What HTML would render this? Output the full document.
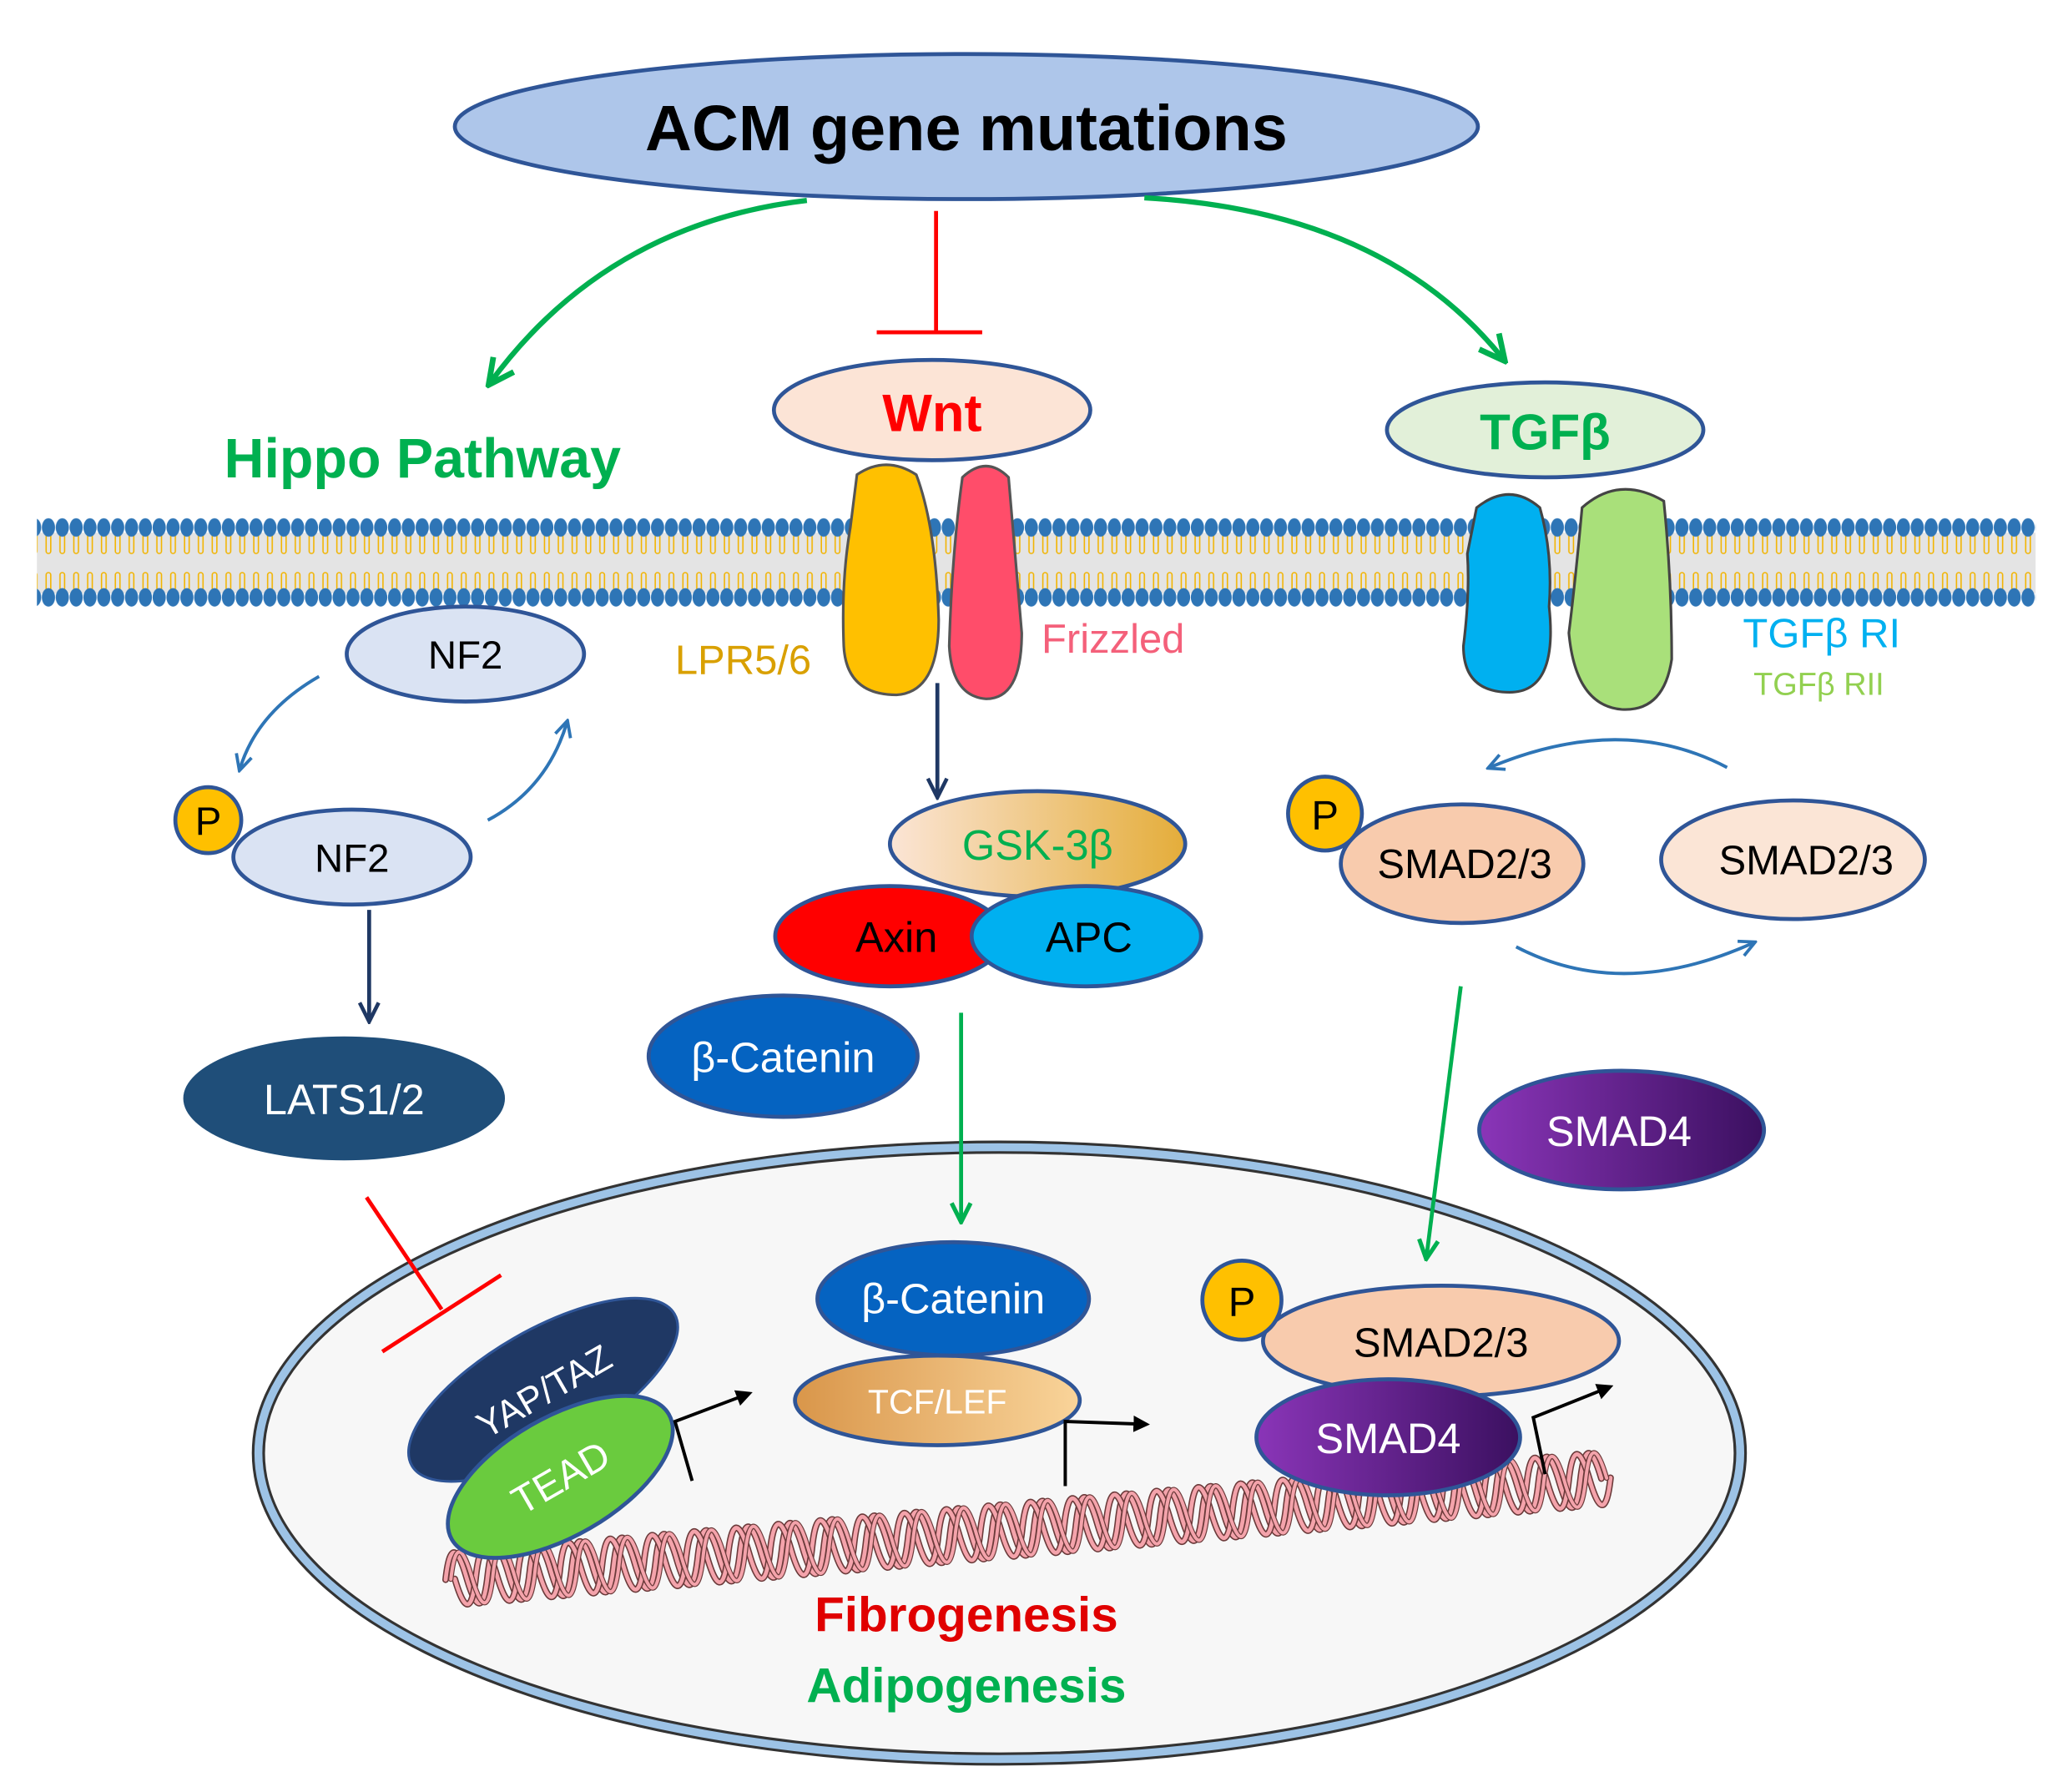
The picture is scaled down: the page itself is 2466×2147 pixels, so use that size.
<!DOCTYPE html>
<html><head><meta charset="utf-8"><style>html,body{margin:0;padding:0;background:#fff}svg{display:block}text{font-family:"Liberation Sans","DejaVu Sans",sans-serif}</style></head>
<body>
<svg width="2466" height="2147" viewBox="0 0 1561 1359" preserveAspectRatio="none" xmlns="http://www.w3.org/2000/svg">
<defs>
<marker id="ag" viewBox="0 0 10 10" refX="8" refY="5" markerWidth="6" markerHeight="6" orient="auto"><path d="M1,1 L9,5 L1,9" fill="none" stroke="#00b050" stroke-width="1.8"/></marker>
<marker id="an" viewBox="0 0 10 10" refX="8" refY="5" markerWidth="6" markerHeight="6" orient="auto"><path d="M1,1 L9,5 L1,9" fill="none" stroke="#1f3864" stroke-width="1.6"/></marker>
<marker id="ab" viewBox="0 0 10 10" refX="8" refY="5" markerWidth="6" markerHeight="6" orient="auto"><path d="M1,1 L9,5 L1,9" fill="none" stroke="#2e75b6" stroke-width="1.6"/></marker>
<marker id="ak" viewBox="0 0 10 10" refX="5" refY="5" markerWidth="5" markerHeight="5" orient="auto"><path d="M0,0 L10,5 L0,10 z" fill="#000"/></marker>
<pattern id="mem" x="0" y="392" width="10.5" height="70" patternUnits="userSpaceOnUse">
<rect x="0" y="12" width="10.5" height="46" fill="#e4e4e4"/>
<path d="M3.5,14 v12 M7,14 v12 M3.5,26 a1.75,1.75 0 0 0 3.5,0 M3.5,44 v12 M7,44 v12 M3.5,44 a1.75,1.75 0 0 1 3.5,0" stroke="#f2b400" stroke-width="1" fill="none"/>
<ellipse cx="5.25" cy="8" rx="5" ry="7" fill="#2e75b6"/>
<ellipse cx="5.25" cy="61" rx="5" ry="7" fill="#2e75b6"/>
</pattern>
<linearGradient id="gsk" x1="0" x2="1"><stop offset="0" stop-color="#fbe5d6"/><stop offset="1" stop-color="#e4ad3a"/></linearGradient>
<linearGradient id="tcf" x1="0" x2="1"><stop offset="0" stop-color="#d9964a"/><stop offset="1" stop-color="#f9d49a"/></linearGradient>
<linearGradient id="s4" x1="0" x2="1"><stop offset="0" stop-color="#8a35b8"/><stop offset="1" stop-color="#3b1060"/></linearGradient>
<path id="hx" d="M0,0 q8,-40 16,0 t16,0 t16,0 t16,0 t16,0 t16,0 t16,0 t16,0 t16,0 t16,0 t16,0 t16,0 t16,0 t16,0 t16,0 t16,0 t16,0 t16,0 t16,0 t16,0 t16,0 t16,0 t16,0 t16,0 t16,0 t16,0 t16,0 t16,0 t16,0 t16,0 t16,0 t16,0 t16,0 t16,0 t16,0 t16,0 t16,0 t16,0 t16,0 t16,0 t16,0 t16,0 t16,0 t16,0 t16,0 t16,0 t16,0 t16,0 t16,0 t16,0 t16,0 t16,0 t16,0 t16,0 t16,0"/>
</defs>

<!-- nucleus (behind) -->
<ellipse cx="758" cy="1102" rx="562" ry="232" fill="#f7f7f7" stroke="#333" stroke-width="10"/>
<ellipse cx="758" cy="1102" rx="562" ry="232" fill="none" stroke="#9dc3e6" stroke-width="6"/>

<!-- top -->
<ellipse cx="733" cy="96" rx="388" ry="55" fill="#aec6ea" stroke="#2f5597" stroke-width="3"/>
<text x="733" y="114" font-size="49" font-weight="bold" text-anchor="middle">ACM gene mutations</text>
<path d="M612,152 Q460,170 372,290" fill="none" stroke="#00b050" stroke-width="4" marker-end="url(#ag)"/>
<path d="M868,150 Q1050,160 1140,272" fill="none" stroke="#00b050" stroke-width="4" marker-end="url(#ag)"/>
<path d="M710,160 V252 M665,252 H745" stroke="#ff0000" stroke-width="3" fill="none"/>

<text x="170" y="362" font-size="42" font-weight="bold" fill="#00b050">Hippo Pathway</text>
<ellipse cx="707" cy="311" rx="120" ry="38" fill="#fce4d6" stroke="#2f5597" stroke-width="3"/>
<text x="707" y="327" font-size="40" font-weight="bold" fill="#ff0000" text-anchor="middle">Wnt</text>
<ellipse cx="1172" cy="326" rx="120" ry="36" fill="#e2f0d9" stroke="#2f5597" stroke-width="3"/>
<text x="1172" y="341" font-size="38" font-weight="bold" fill="#00b050" text-anchor="middle">TGFβ</text>

<!-- membrane -->
<rect x="28" y="392" width="1516" height="70" fill="url(#mem)"/>

<!-- receptors -->
<path d="M650,360 Q672,345 695,360 Q710,400 712,470 Q712,525 680,527 Q642,527 640,490 Q638,440 645,400 Z" fill="#ffc000" stroke="#555" stroke-width="2"/>
<path d="M730,362 Q748,345 765,362 Q770,420 775,480 Q775,530 748,530 Q722,528 720,490 Q722,420 730,362 Z" fill="#ff4d6a" stroke="#555" stroke-width="2"/>
<text x="512" y="511" font-size="31" fill="#d9a000">LPR5/6</text>
<text x="790" y="495" font-size="31" fill="#f4607a">Frizzled</text>
<path d="M1120,385 Q1145,365 1168,385 Q1178,420 1175,460 Q1182,525 1145,525 Q1110,525 1110,490 Q1115,450 1113,420 Z" fill="#00b0f0" stroke="#444" stroke-width="2"/>
<path d="M1200,385 Q1228,360 1262,380 Q1268,440 1268,500 Q1262,540 1230,538 Q1195,535 1190,480 Q1195,440 1200,385 Z" fill="#a9e07a" stroke="#444" stroke-width="2"/>
<text x="1322" y="491" font-size="31" fill="#00b0f0">TGFβ RI</text>
<text x="1330" y="527" font-size="24" fill="#92d050">TGFβ RII</text>

<!-- hippo -->
<ellipse cx="353" cy="496" rx="90" ry="36" fill="#dae3f3" stroke="#2f5597" stroke-width="3"/>
<text x="353" y="507" font-size="30" text-anchor="middle">NF2</text>
<path d="M242,513 Q195,540 182,583" fill="none" stroke="#2e75b6" stroke-width="2.5" marker-end="url(#ab)"/>
<path d="M370,622 Q415,598 430,548" fill="none" stroke="#2e75b6" stroke-width="2.5" marker-end="url(#ab)"/>
<ellipse cx="267" cy="650" rx="90" ry="36" fill="#dae3f3" stroke="#2f5597" stroke-width="3"/>
<text x="267" y="661" font-size="30" text-anchor="middle">NF2</text>
<circle cx="158" cy="622" r="25" fill="#ffc000" stroke="#2f5597" stroke-width="3"/>
<text x="158" y="633" font-size="30" text-anchor="middle">P</text>
<path d="M280,690 V773" stroke="#1f3864" stroke-width="3" marker-end="url(#an)"/>
<ellipse cx="261" cy="833" rx="122" ry="47" fill="#1f4e79"/>
<text x="261" y="845" font-size="32" fill="#fff" text-anchor="middle">LATS1/2</text>
<path d="M278,908 L335,993 M290,1025 L380,967" stroke="#ff0000" stroke-width="3"/>

<!-- wnt -->
<path d="M711,518 V603" stroke="#1f3864" stroke-width="3" marker-end="url(#an)"/>
<ellipse cx="787" cy="640" rx="112" ry="40" fill="url(#gsk)" stroke="#2f5597" stroke-width="3"/>
<text x="787" y="652" font-size="32" fill="#00b050" text-anchor="middle">GSK-3β</text>
<ellipse cx="675" cy="710" rx="87" ry="38" fill="#ff0000" stroke="#2f5597" stroke-width="3"/>
<ellipse cx="824" cy="710" rx="87" ry="38" fill="#00b0f0" stroke="#2f5597" stroke-width="3"/>
<text x="680" y="722" font-size="32" text-anchor="middle">Axin</text>
<text x="826" y="722" font-size="32" text-anchor="middle">APC</text>
<ellipse cx="594" cy="801" rx="102" ry="46" fill="#0563c1" stroke="#2f5597" stroke-width="3"/>
<text x="594" y="813" font-size="32" fill="#fff" text-anchor="middle">β-Catenin</text>
<path d="M729,768 V925" stroke="#00b050" stroke-width="3" marker-end="url(#ag)"/>

<!-- tgf -->
<path d="M1310,582 Q1230,540 1130,582" fill="none" stroke="#2e75b6" stroke-width="2.5" marker-end="url(#ab)"/>
<ellipse cx="1109" cy="655" rx="92" ry="45" fill="#f8cbad" stroke="#2f5597" stroke-width="3"/>
<text x="1111" y="666" font-size="31" text-anchor="middle">SMAD2/3</text>
<circle cx="1005" cy="617" r="28" fill="#ffc000" stroke="#2f5597" stroke-width="3"/>
<text x="1005" y="629" font-size="31" text-anchor="middle">P</text>
<ellipse cx="1360" cy="652" rx="100" ry="45" fill="#fbe5d6" stroke="#2f5597" stroke-width="3"/>
<text x="1370" y="663" font-size="31" text-anchor="middle">SMAD2/3</text>
<path d="M1150,718 Q1230,760 1330,715" fill="none" stroke="#2e75b6" stroke-width="2.5" marker-end="url(#ab)"/>
<path d="M1108,748 L1082,953" stroke="#00b050" stroke-width="3" marker-end="url(#ag)"/>
<ellipse cx="1230" cy="857" rx="108" ry="45" fill="url(#s4)" stroke="#2f5597" stroke-width="3"/>
<text x="1228" y="869" font-size="32" fill="#fff" text-anchor="middle">SMAD4</text>

<!-- DNA -->
<g fill="none" stroke-linecap="round">
<g transform="translate(338,1198) rotate(-5)">
<use href="#hx" stroke="#6b3a3a" stroke-width="5"/>
<use href="#hx" stroke="#f4a3ab" stroke-width="3"/>
<use href="#hx" x="7" transform="scale(1,-1)" stroke="#6b3a3a" stroke-width="5"/>
<use href="#hx" x="7" transform="scale(1,-1)" stroke="#f4a3ab" stroke-width="3"/>
<use href="#hx" x="4" stroke="#6b3a3a" stroke-width="4"/>
<use href="#hx" x="4" stroke="#f4a3ab" stroke-width="2.5"/>
</g>
</g>

<ellipse cx="412" cy="1054" rx="115" ry="45" transform="rotate(-30 412 1054)" fill="#1f3864" stroke="#2f5597" stroke-width="2"/>
<text x="412" y="1065" font-size="28" fill="#fff" text-anchor="middle" transform="rotate(-30 412 1054)">YAP/TAZ</text>
<ellipse cx="425" cy="1120" rx="95" ry="45" transform="rotate(-30 425 1120)" fill="#6acb3e" stroke="#2f5597" stroke-width="3"/>
<text x="425" y="1131" font-size="30" fill="#fff" text-anchor="middle" transform="rotate(-30 425 1120)">TEAD</text>

<ellipse cx="723" cy="985" rx="103" ry="43" fill="#0563c1" stroke="#2f5597" stroke-width="3"/>
<text x="723" y="996" font-size="32" fill="#fff" text-anchor="middle">β-Catenin</text>
<ellipse cx="711" cy="1062" rx="108" ry="34" fill="url(#tcf)" stroke="#2f5597" stroke-width="3"/>
<text x="711" y="1072" font-size="26" fill="#fff" text-anchor="middle">TCF/LEF</text>

<ellipse cx="1093" cy="1017" rx="135" ry="42" fill="#f8cbad" stroke="#2f5597" stroke-width="3"/>
<text x="1093" y="1029" font-size="31" text-anchor="middle">SMAD2/3</text>
<circle cx="942" cy="986" r="30" fill="#ffc000" stroke="#2f5597" stroke-width="3"/>
<text x="942" y="998" font-size="31" text-anchor="middle">P</text>
<ellipse cx="1053" cy="1090" rx="100" ry="44" fill="url(#s4)" stroke="#2f5597" stroke-width="3"/>
<text x="1053" y="1102" font-size="32" fill="#fff" text-anchor="middle">SMAD4</text>

<!-- promoter arrows -->
<path d="M525,1123 L512,1078 L565,1058" fill="none" stroke="#000" stroke-width="2.5" marker-end="url(#ak)"/>
<path d="M808,1127 V1078 L866,1080" fill="none" stroke="#000" stroke-width="2.5" marker-end="url(#ak)"/>
<path d="M1172,1118 L1163,1075 L1218,1053" fill="none" stroke="#000" stroke-width="2.5" marker-end="url(#ak)"/>

<text x="733" y="1237" font-size="37" font-weight="bold" fill="#e00000" text-anchor="middle">Fibrogenesis</text>
<text x="733" y="1291" font-size="37" font-weight="bold" fill="#00b050" text-anchor="middle">Adipogenesis</text>
</svg>
</body></html>
